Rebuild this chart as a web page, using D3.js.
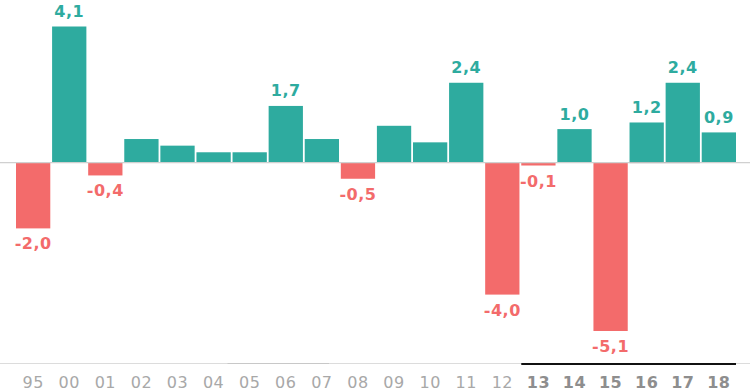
<!DOCTYPE html>
<html>
<head>
<meta charset="utf-8">
<script src="https://cdn.jsdelivr.net/npm/d3@7"></script>
<style>
  body { margin: 0; background: #fff; }
  svg { display: block; font-family: "DejaVu Sans", sans-serif; }
</style>
</head>
<body>
<script>
// years and yearly change (%)
var years = ['95', '00', '01', '02', '03', '04', '05', '06', '07', '08', '09', '10', '11', '12', '13', '14', '15', '16', '17', '18'];
var values = [-2.0, 4.1, -0.4, 0.7, 0.5, 0.3, 0.3, 1.7, 0.7, -0.5, 1.1, 0.6, 2.4, -4.0, -0.1, 1.0, -5.1, 1.2, 2.4, 0.9];
var labeledYears = ['95', '00', '01', '06', '08', '11', '12', '13', '14', '15', '16', '17', '18'];
var boldYears = ['13', '14', '15', '16', '17', '18'];

var data = years.map(function (y, i) { return { year: y, value: values[i] }; });

var width = 750, height = 392;
var teal = '#2eab9f', red = '#f36b6b';

var fmt = d3.formatLocale({ decimal: ',', thousands: '.', grouping: [3], currency: ['', ''], minus: '-' }).format('.1f');

var svg = d3.select('body').append('svg').attr('width', width).attr('height', height);

var x = d3.scaleBand().domain(years).range([16, 736]).paddingInner(0.05).paddingOuter(0);
var y = d3.scaleLinear().domain([-5.1, 4.1]).range([331, 26.5]);

// bottom axis lines
svg.append('line')
  .attr('x1', 0).attr('x2', width)
  .attr('y1', 363.5).attr('y2', 363.5)
  .attr('stroke', '#dcdcdc').attr('stroke-width', 1);
svg.append('line')
  .attr('x1', x('05') - 5).attr('x2', x('07') + x.bandwidth() - 10)
  .attr('y1', 363.5).attr('y2', 363.5)
  .attr('stroke', '#c8c8c8').attr('stroke-width', 1);
svg.append('line')
  .attr('x1', x('13')).attr('x2', x('18') + x.bandwidth())
  .attr('y1', 364).attr('y2', 364)
  .attr('stroke', '#111').attr('stroke-width', 2);

// bars
svg.selectAll('rect.bar').data(data).enter().append('rect')
  .attr('class', 'bar')
  .attr('x', function (d) { return x(d.year); })
  .attr('width', x.bandwidth())
  .attr('y', function (d) { return d.value >= 0 ? y(d.value) : y(0); })
  .attr('height', function (d) { return Math.abs(y(d.value) - y(0)); })
  .attr('fill', function (d) { return d.value >= 0 ? teal : red; });

// zero line
svg.append('line')
  .attr('x1', 0).attr('x2', width)
  .attr('y1', y(0) + 0.5).attr('y2', y(0) + 0.5)
  .attr('stroke', '#d0d0d0').attr('stroke-width', 1.2);
svg.append('line')
  .attr('x1', x('16')).attr('x2', x('17') + x.bandwidth())
  .attr('y1', y(0) + 0.5).attr('y2', y(0) + 0.5)
  .attr('stroke', '#bdbdbd').attr('stroke-width', 1.2);

// value labels
svg.selectAll('text.val').data(data.filter(function (d) { return labeledYears.indexOf(d.year) >= 0; }))
  .enter().append('text')
  .attr('class', 'val')
  .attr('x', function (d) { return x(d.year) + x.bandwidth() / 2; })
  .attr('y', function (d) { return d.value >= 0 ? y(d.value) - 9.5 : y(d.value) + 21; })
  .attr('text-anchor', 'middle')
  .attr('font-size', 16)
  .attr('font-weight', 'bold')
  .attr('letter-spacing', 0.5)
  .attr('fill', function (d) { return d.value >= 0 ? teal : red; })
  .text(function (d) { return fmt(d.value); });

// year axis
var axis = svg.append('g')
  .attr('transform', 'translate(0,363)')
  .call(d3.axisBottom(x).tickSize(0).tickPadding(14));
axis.select('.domain').remove();
axis.selectAll('text')
  .attr('font-family', '"DejaVu Sans", sans-serif')
  .attr('font-size', 16)
  .attr('letter-spacing', 0.5)
  .attr('font-weight', function (d) { return boldYears.indexOf(d) >= 0 ? 'bold' : 'normal'; })
  .attr('fill', function (d) { return boldYears.indexOf(d) >= 0 ? '#8e8e8e' : '#a8a8a8'; });
</script>
</body>
</html>
